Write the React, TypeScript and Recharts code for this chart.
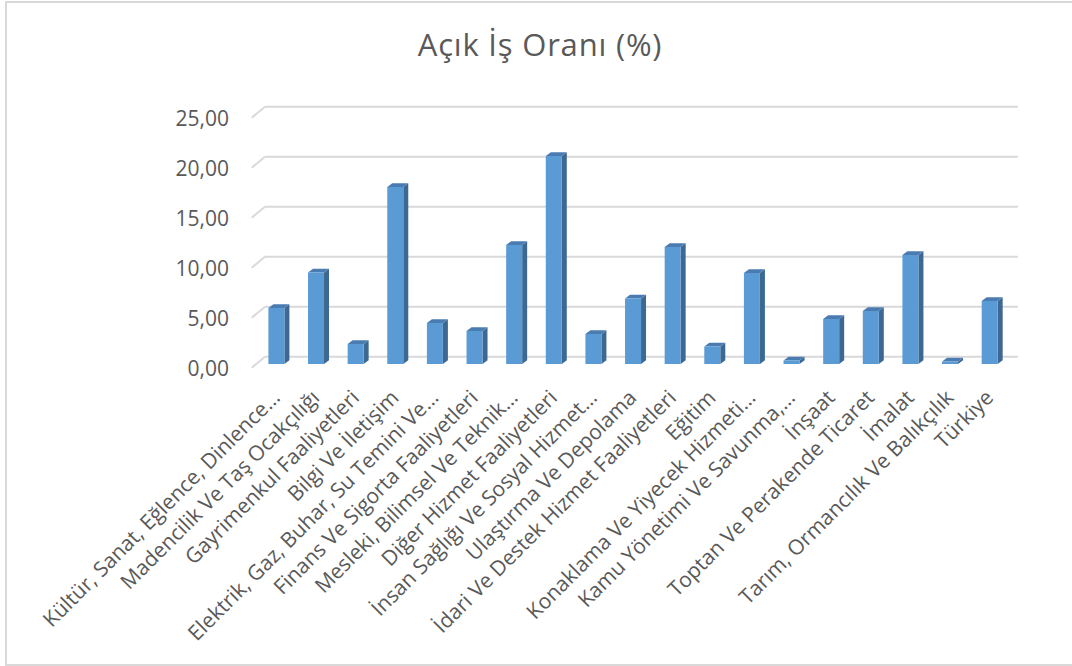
import React from "react";
import { BarChart, Bar, XAxis, YAxis, CartesianGrid } from "recharts";

const categories: string[] = [
  "Kültür, Sanat, Eğlence, Dinlence…",
  "Madencilik Ve Taş Ocakçılığı",
  "Gayrimenkul Faaliyetleri",
  "Bilgi Ve İletişim",
  "Elektrik, Gaz, Buhar, Su Temini Ve…",
  "Finans Ve Sigorta Faaliyetleri",
  "Mesleki, Bilimsel Ve Teknik…",
  "Diğer Hizmet Faaliyetleri",
  "İnsan Sağlığı Ve Sosyal Hizmet…",
  "Ulaştırma Ve Depolama",
  "İdari Ve Destek Hizmet Faaliyetleri",
  "Eğitim",
  "Konaklama Ve Yiyecek Hizmeti…",
  "Kamu Yönetimi Ve Savunma,…",
  "İnşaat",
  "Toptan Ve Perakende Ticaret",
  "İmalat",
  "Tarım, Ormancılık Ve Balıkçılık",
  "Türkiye",
];

const acikIsOrani: number[] = [
  5.6, 9.15, 2.0, 17.7, 4.1, 3.3, 11.9, 20.8, 3.0, 6.55, 11.7, 1.75, 9.1, 0.35,
  4.5, 5.3, 10.9, 0.25, 6.3,
];

const yTicks: number[] = [0, 5, 10, 15, 20, 25];

const title = "Açık İş Oranı (%)";

const data = categories.map((name, i) => ({ name, value: acikIsOrani[i] }));

const FONT = "'Open Sans', 'DejaVu Sans', sans-serif";
const TEXT = "#595959";
const GRID = "#d9d9d9";

const DX = 5;
const DY = 3.8;

const Bar3D = (props: any) => {
  const { x, y, width, height } = props;
  if (x == null || y == null) return null;
  const w = width;
  const h = Math.max(height, 0);
  const top = `${x},${y} ${x + w},${y} ${x + w + DX},${y - DY} ${x + DX},${y - DY}`;
  const side = `${x + w},${y} ${x + w + DX},${y - DY} ${x + w + DX},${y + h - DY} ${x + w},${y + h}`;
  return (
    <g>
      <polygon points={side} fill="#3d6891" />
      <polygon points={top} fill="#4a7cb2" />
      <rect x={x} y={y} width={w} height={h} fill="#5b9bd5" />
    </g>
  );
};

const gridLine = (p: any) => {
  const { x1, y1, x2 } = p;
  const bx = 8.6;
  const by = 7.3;
  return (
    <g key={p.key ?? `g-${y1}`}>
      <line x1={x1 - 4.7} y1={y1 + 3.7} x2={x1 + bx} y2={y1 - by} stroke={GRID} strokeWidth={2} />
      <line x1={x1 + bx} y1={y1 - by} x2={x2 + bx} y2={y1 - by} stroke={GRID} strokeWidth={2} />
    </g>
  );
};

const YTick = (props: any) => {
  const { x, y, payload } = props;
  return (
    <text
      x={x}
      y={y + 4.6}
      dy="0.36em"
      textAnchor="end"
      fill={TEXT}
      fontSize={21}
      fontFamily={FONT}
    >
      {Number(payload.value).toFixed(2).replace(".", ",")}
    </text>
  );
};

const XTick = (props: any) => {
  const { x, y, payload } = props;
  const px = x + 5;
  const py = y + 35;
  return (
    <text
      x={px}
      y={py}
      textAnchor="end"
      transform={`rotate(-45 ${px} ${py})`}
      fill={TEXT}
      fontSize={21}
      fontFamily={FONT}
    >
      {payload.value}
    </text>
  );
};

export default function App() {
  return (
    <div
      style={{
        position: "absolute",
        left: 0,
        top: 0,
        width: 1072,
        height: 666,
        overflow: "hidden",
        background: "#fff",
      }}
    >
      <div
        style={{
          position: "absolute",
          left: 5,
          top: 1,
          width: 1075,
          height: 665,
          border: `2px solid ${GRID}`,
          boxSizing: "border-box",
        }}
      />
      <div
        style={{
          position: "absolute",
          left: 0,
          top: 23,
          width: 1080,
          textAlign: "center",
          fontFamily: FONT,
          fontSize: 31,
          letterSpacing: 0.8,
          color: TEXT,
          lineHeight: "42px",
        }}
      >
        {title}
      </div>
      <div style={{ position: "absolute", left: 0, top: 0 }}>
        <BarChart
          width={1072}
          height={666}
          data={data}
          margin={{ top: 114, right: 62.7, bottom: 22, left: 196.4 }}
        >
          <CartesianGrid vertical={false} horizontal={gridLine} />
          <XAxis
            dataKey="name"
            interval={0}
            axisLine={false}
            tickLine={false}
            tickSize={0}
            tickMargin={0}
            height={280}
            tick={<XTick />}
          />
          <YAxis
            domain={[0, 25]}
            ticks={yTicks}
            axisLine={false}
            tickLine={false}
            tickSize={0}
            tickMargin={27.4}
            width={60}
            tick={<YTick />}
          />
          <Bar
            dataKey="value"
            barSize={16}
            isAnimationActive={false}
            shape={(p: any) => <Bar3D {...p} />}
          />
        </BarChart>
      </div>
    </div>
  );
}
